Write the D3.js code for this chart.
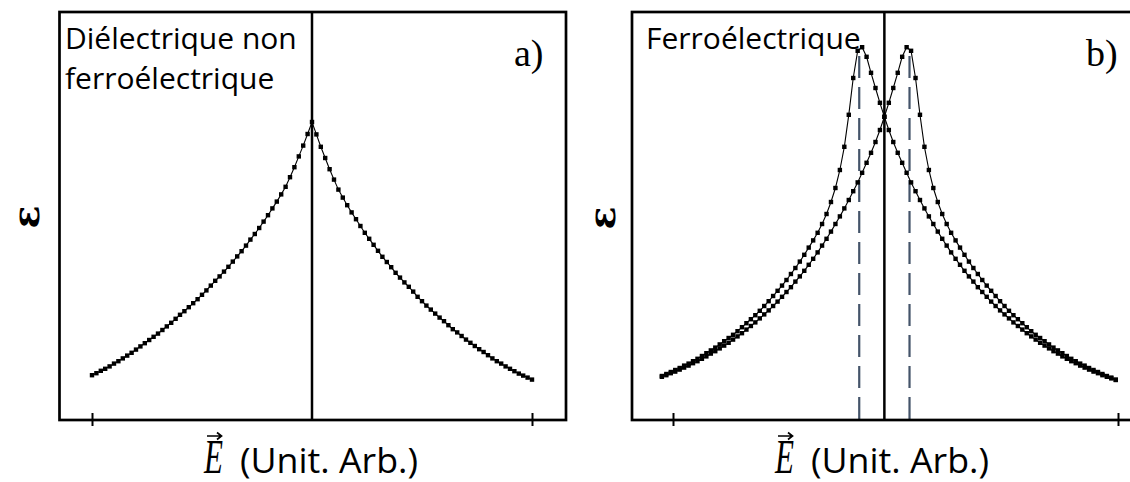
<!DOCTYPE html>
<html>
<head>
<meta charset="utf-8">
<script src="https://cdn.jsdelivr.net/npm/d3@7"></script>
<style>
  html, body { margin: 0; padding: 0; background: #fff; }
  svg { display: block; }
</style>
</head>
<body>
<svg id="chart" width="1130" height="482"></svg>
<script>
// ---- data -------------------------------------------------------------
// Field ticks (arbitrary units) shown on both x axes
const tickFields = [-1, 1];

// Panel a: non-ferroelectric dielectric, permittivity vs field (step 0.02)
const fieldA = d3.range(-50, 51).map(i => i * 0.02);
const permittivityA = [
  1.12, 1.17, 1.23, 1.28, 1.34, 1.41, 1.47, 1.54, 1.61, 1.68,
  1.76, 1.84, 1.92, 2.00, 2.08, 2.16, 2.25, 2.34, 2.43, 2.53,
  2.63, 2.72, 2.82, 2.92, 3.02, 3.13, 3.24, 3.36, 3.48, 3.59,
  3.71, 3.83, 3.96, 4.09, 4.22, 4.36, 4.51, 4.65, 4.80, 4.96,
  5.12, 5.29, 5.46, 5.64, 5.83, 6.07, 6.32, 6.59, 6.86, 7.15,
  7.45,
  7.14, 6.83, 6.55, 6.27, 6.01, 5.76, 5.56, 5.37, 5.19, 5.02,
  4.85, 4.68, 4.53, 4.38, 4.23, 4.08, 3.95, 3.82, 3.68, 3.56,
  3.44, 3.33, 3.21, 3.08, 2.97, 2.86, 2.76, 2.66, 2.56, 2.47,
  2.37, 2.27, 2.19, 2.10, 2.01, 1.93, 1.85, 1.77, 1.70, 1.62,
  1.54, 1.47, 1.41, 1.34, 1.28, 1.22, 1.16, 1.11, 1.06, 1.01
];

// Panel b: ferroelectric butterfly, two sweeps (step 0.02)
const fieldB = d3.range(0, 103).map(i => -1.05 + i * 0.02);
const permittivitySweepUp = [
  1.10, 1.15, 1.20, 1.25, 1.30, 1.36, 1.41, 1.47, 1.53, 1.60,
  1.67, 1.74, 1.81, 1.89, 1.97, 2.05, 2.13, 2.22, 2.32, 2.42,
  2.52, 2.62, 2.73, 2.85, 2.97, 3.10, 3.23, 3.36, 3.50, 3.65,
  3.80, 3.96, 4.13, 4.31, 4.49, 4.68, 4.90, 5.15, 5.45, 5.80,
  6.25, 6.83, 7.63, 8.55, 9.23, 9.32, 9.08, 8.68, 8.30, 7.93,
  7.58, 7.25, 6.95, 6.68, 6.43, 6.18, 5.94, 5.72, 5.50, 5.29,
  5.09, 4.90, 4.71, 4.53, 4.36, 4.19, 4.03, 3.88, 3.73, 3.59,
  3.46, 3.32, 3.20, 3.08, 2.96, 2.85, 2.74, 2.64, 2.54, 2.44,
  2.35, 2.26, 2.17, 2.09, 2.01, 1.93, 1.86, 1.79, 1.72, 1.66,
  1.59, 1.53, 1.47, 1.42, 1.36, 1.31, 1.26, 1.21, 1.17, 1.12,
  1.08, 1.04, 1.00
];
const permittivitySweepDown = [
  1.08, 1.12, 1.17, 1.21, 1.26, 1.31, 1.36, 1.42, 1.47, 1.53,
  1.59, 1.66, 1.72, 1.79, 1.86, 1.93, 2.01, 2.09, 2.17, 2.26,
  2.35, 2.44, 2.54, 2.64, 2.74, 2.85, 2.96, 3.08, 3.20, 3.32,
  3.46, 3.59, 3.73, 3.88, 4.03, 4.19, 4.36, 4.53, 4.71, 4.90,
  5.09, 5.29, 5.50, 5.72, 5.94, 6.18, 6.43, 6.68, 6.95, 7.25,
  7.58, 7.93, 8.30, 8.68, 9.08, 9.32, 9.23, 8.55, 7.63, 6.83,
  6.25, 5.80, 5.45, 5.15, 4.90, 4.68, 4.49, 4.31, 4.13, 3.96,
  3.80, 3.65, 3.50, 3.36, 3.23, 3.10, 2.97, 2.85, 2.73, 2.62,
  2.52, 2.42, 2.32, 2.22, 2.13, 2.05, 1.97, 1.89, 1.81, 1.74,
  1.67, 1.60, 1.53, 1.47, 1.41, 1.36, 1.30, 1.25, 1.20, 1.15,
  1.10, 1.06, 1.01
];
const zeroFieldB = -0.05;                 // symmetry axis of the butterfly
const coerciveFieldsB = [-0.163, 0.063];  // permittivity maxima

const captionA = ["Diélectrique non", "ferroélectrique"];
const captionB = ["Ferroélectrique"];
const panelTags = ["a)", "b)"];
const yLabel = "ε";
const xLabelUnits = "(Unit. Arb.)";

// ---- layout -----------------------------------------------------------
const svg = d3.select("#chart");
const plotTop = 12, plotBottom = 420;

const y = d3.scaleLinear().domain([0, 10.2]).range([plotBottom, plotTop]);

const panels = [
  {
    frame: [59.5, 566], xRange: [92, 532], zero: 0,
    series: [{ field: fieldA, eps: permittivityA }],
    coercive: [], caption: captionA, captionX: 65, tag: panelTags[0], tagX: 514,
    yLabelX: 25, yLabelY: 217, xLabelX: 204
  },
  {
    frame: [632, 1140], xRange: [673, 1118], zero: zeroFieldB,
    series: [
      { field: fieldB, eps: permittivitySweepUp },
      { field: fieldB, eps: permittivitySweepDown }
    ],
    coercive: coerciveFieldsB, caption: captionB, captionX: 646, tag: panelTags[1], tagX: 1086,
    yLabelX: 601, yLabelY: 218, xLabelX: 775
  }
];

panels.forEach(p => {
  const x = d3.scaleLinear().domain([-1, 1]).range(p.xRange);
  const g = svg.append("g");

  // dashed guides at the permittivity maxima
  g.selectAll("line.coercive").data(p.coercive).join("line")
    .attr("class", "coercive")
    .attr("x1", d => x(d)).attr("x2", d => x(d))
    .attr("y1", y(9.1)).attr("y2", plotBottom)
    .attr("stroke", "#44546a").attr("stroke-width", 2.2)
    .attr("stroke-dasharray", "22,9");

  // curves: thin connecting line plus square markers
  const line = d3.line().x(d => x(d[0])).y(d => y(d[1]));
  p.series.forEach(s => {
    const pts = d3.zip(s.field, s.eps);
    g.append("path").datum(pts)
      .attr("d", line).attr("fill", "none")
      .attr("stroke", "#000").attr("stroke-width", 1.1);
    g.selectAll(null).data(pts).join("rect")
      .attr("x", d => x(d[0]) - 2.2).attr("y", d => y(d[1]) - 2.2)
      .attr("width", 4.4).attr("height", 4.4).attr("fill", "#000");
  });

  // zero-field line
  g.append("line")
    .attr("x1", x(p.zero)).attr("x2", x(p.zero))
    .attr("y1", plotTop).attr("y2", plotBottom)
    .attr("stroke", "#000").attr("stroke-width", 2.5);

  // frame
  g.append("rect")
    .attr("x", p.frame[0]).attr("y", plotTop)
    .attr("width", p.frame[1] - p.frame[0]).attr("height", plotBottom - plotTop)
    .attr("fill", "none").attr("stroke", "#000").attr("stroke-width", 2.7);

  // x axis ticks crossing the bottom edge
  const axis = d3.axisBottom(x).tickValues(tickFields).tickFormat(() => "").tickSize(6);
  g.append("g").attr("transform", `translate(0,${plotBottom})`).call(axis)
    .call(a => a.select(".domain").remove())
    .call(a => a.selectAll(".tick line")
      .attr("y1", -7).attr("y2", 6).attr("stroke", "#000").attr("stroke-width", 2));

  // caption
  g.append("text")
    .attr("font-family", "'Open Sans', sans-serif").attr("font-size", 30)
    .attr("fill", "#000")
    .selectAll("tspan").data(p.caption).join("tspan")
    .attr("x", p.captionX).attr("y", (d, i) => 49 + i * 40)
    .text(d => d);

  // panel tag
  g.append("text")
    .attr("x", p.tagX).attr("y", 66)
    .attr("font-family", "'Liberation Serif', serif").attr("font-size", 38)
    .text(p.tag);

  // y label (rotated epsilon)
  g.append("text")
    .attr("transform", `translate(${p.yLabelX},${p.yLabelY}) rotate(-90)`)
    .attr("text-anchor", "middle").attr("dominant-baseline", "central")
    .attr("font-family", "'DejaVu Serif', serif").attr("font-weight", "bold")
    .attr("font-size", 38)
    .text(yLabel);

  // x label: vector E with arrow, then units
  const ex = p.xLabelX;
  g.append("text")
    .attr("x", ex).attr("y", 473)
    .attr("font-family", "'Liberation Serif', serif").attr("font-style", "italic")
    .attr("font-size", 48)
    .attr("textLength", 19).attr("lengthAdjust", "spacingAndGlyphs")
    .text("E");
  g.append("path")
    .attr("d", `M${ex + 3},436 L${ex + 17},436 M${ex + 13},432.5 L${ex + 17.5},436 L${ex + 13},439.5`)
    .attr("fill", "none").attr("stroke", "#000").attr("stroke-width", 1.7);
  g.append("text")
    .attr("x", ex + 36).attr("y", 473)
    .attr("font-family", "'Open Sans', sans-serif").attr("font-size", 34)
    .attr("textLength", 178).attr("lengthAdjust", "spacingAndGlyphs")
    .text(xLabelUnits);
});
</script>
</body>
</html>
